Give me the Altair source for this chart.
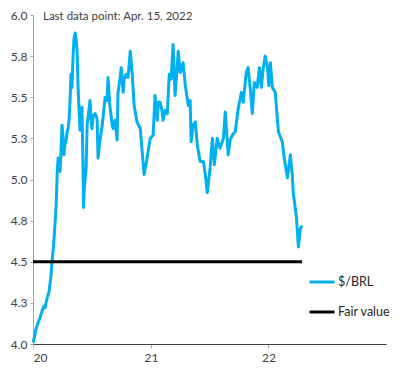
import altair as alt
import pandas as pd

# ---- data ----
brl_dates = [
    "2020-01-02", "2020-01-10", "2020-01-17", "2020-01-23", "2020-01-29", "2020-02-04",
    "2020-02-07", "2020-02-14", "2020-02-20", "2020-02-23", "2020-02-26", "2020-02-29",
    "2020-03-03", "2020-03-06", "2020-03-09", "2020-03-13", "2020-03-16", "2020-03-19",
    "2020-03-22", "2020-03-25", "2020-03-28", "2020-03-31", "2020-04-03", "2020-04-06",
    "2020-04-09", "2020-04-13", "2020-04-16", "2020-04-19", "2020-04-22", "2020-04-25",
    "2020-04-28", "2020-05-01", "2020-05-04", "2020-05-07", "2020-05-11", "2020-05-14",
    "2020-05-17", "2020-05-20", "2020-05-23", "2020-05-26", "2020-05-29", "2020-06-01",
    "2020-06-04", "2020-06-06", "2020-06-08", "2020-06-14", "2020-06-17", "2020-06-20",
    "2020-06-26", "2020-06-29", "2020-07-02", "2020-07-06", "2020-07-12", "2020-07-18",
    "2020-07-21", "2020-07-27", "2020-08-03", "2020-08-12", "2020-08-18", "2020-08-21",
    "2020-08-27", "2020-09-03", "2020-09-06", "2020-09-12", "2020-09-18", "2020-09-21",
    "2020-09-27", "2020-10-01", "2020-10-07", "2020-10-10", "2020-10-16", "2020-10-22",
    "2020-10-29", "2020-11-04", "2020-11-10", "2020-11-19", "2020-11-29", "2020-12-05",
    "2020-12-11", "2020-12-17", "2020-12-20", "2020-12-30",
    "2021-01-08", "2021-01-14", "2021-01-21", "2021-01-24", "2021-01-30", "2021-02-05",
    "2021-02-08", "2021-02-14", "2021-02-21", "2021-02-27", "2021-03-05", "2021-03-11",
    "2021-03-17", "2021-03-21", "2021-03-27", "2021-04-02", "2021-04-11", "2021-04-18",
    "2021-04-27", "2021-05-03", "2021-05-06", "2021-05-12", "2021-05-19", "2021-05-25",
    "2021-06-03", "2021-06-13", "2021-06-19", "2021-06-25", "2021-07-04", "2021-07-11",
    "2021-07-17", "2021-07-26", "2021-08-04", "2021-08-14", "2021-08-20", "2021-08-29",
    "2021-09-04", "2021-09-11", "2021-09-20", "2021-09-29", "2021-10-09", "2021-10-15",
    "2021-10-24", "2021-10-30", "2021-11-06", "2021-11-12", "2021-11-18", "2021-11-27",
    "2021-12-04", "2021-12-10", "2021-12-16", "2021-12-22", "2021-12-29",
    "2022-01-02", "2022-01-07", "2022-01-13", "2022-01-22", "2022-02-01", "2022-02-07",
    "2022-02-13", "2022-02-19", "2022-03-01", "2022-03-10", "2022-03-16", "2022-03-19",
    "2022-03-29", "2022-04-04", "2022-04-10", "2022-04-15",
]
brl_values = [
    4.01, 4.09, 4.13, 4.16, 4.20, 4.23,
    4.22, 4.28, 4.32, 4.37, 4.42, 4.50,
    4.56, 4.63, 4.72, 4.85, 5.03, 5.13,
    5.09, 5.05, 5.18, 5.33, 5.27, 5.15,
    5.21, 5.24, 5.29, 5.31, 5.36, 5.48,
    5.64, 5.56, 5.73, 5.85, 5.89, 5.85,
    5.78, 5.56, 5.42, 5.30, 5.37, 5.44,
    5.12, 4.83, 4.94, 5.07, 5.33, 5.38,
    5.48, 5.37, 5.31, 5.39, 5.40, 5.37,
    5.13, 5.24, 5.33, 5.50, 5.48, 5.62,
    5.44, 5.33, 5.31, 5.36, 5.24, 5.53,
    5.61, 5.68, 5.53, 5.61, 5.64, 5.62,
    5.78, 5.64, 5.45, 5.35, 5.31, 5.17,
    5.03, 5.09, 5.13, 5.25,
    5.27, 5.51, 5.36, 5.47, 5.47, 5.41,
    5.36, 5.42, 5.40, 5.64, 5.61, 5.82,
    5.51, 5.61, 5.78, 5.65, 5.71, 5.57,
    5.45, 5.48, 5.23, 5.33, 5.35, 5.21,
    5.11, 5.11, 5.03, 4.92, 5.07, 5.25,
    5.09, 5.25, 5.19, 5.25, 5.41, 5.15,
    5.24, 5.27, 5.29, 5.43, 5.53, 5.47,
    5.65, 5.68, 5.54, 5.40, 5.59, 5.56,
    5.68, 5.56, 5.68, 5.75, 5.68,
    5.57, 5.71, 5.56, 5.53, 5.29, 5.26,
    5.23, 5.13, 5.01, 5.15, 5.03, 4.92,
    4.77, 4.59, 4.70, 4.72,
]
fair_value = 4.5
fair_start = "2020-01-01"
fair_end = "2022-04-15"

series_names = ["$/BRL", "Fair value"]
series_colors = ["#00B0F0", "#000000"]
y_ticks = [4.0, 4.25, 4.5, 4.75, 5.0, 5.25, 5.5, 5.75, 6.0]
x_tick_years = [2020, 2021, 2022]
title_text = "Last data point: Apr. 15, 2022"

brl_df = pd.DataFrame({"date": brl_dates, "value": brl_values, "series": series_names[0]})
fair_df = pd.DataFrame({"start": [fair_start], "end": [fair_end],
                        "value": [fair_value], "series": [series_names[1]]})

FONT = "Lato"

color = alt.Color(
    "series:N",
    scale=alt.Scale(domain=series_names, range=series_colors),
    legend=alt.Legend(title=None),
)

x_axis = alt.Axis(
    title=None,
    values=[alt.DateTime(year=y, month=1, date=1) for y in x_tick_years],
    format="%y",
    grid=False,
    domainColor="#404040",
    tickColor="#a6a6a6",
    tickSize=4,
    labelPadding=4,
)
y_axis = alt.Axis(
    title=None,
    values=y_ticks,
    format=".1f",
    grid=False,
    domainColor="#a6a6a6",
    tickColor="#a6a6a6",
    tickSize=3,
    labelPadding=3,
)

x_scale = alt.Scale(domain=[alt.DateTime(year=2020, month=1, date=1),
                            alt.DateTime(year=2023, month=1, date=1)])
y_scale = alt.Scale(domain=[4.0, 6.0], nice=False, zero=False)

brl_line = alt.Chart(brl_df).mark_line(strokeWidth=3, strokeJoin="round").encode(
    x=alt.X("date:T", scale=x_scale, axis=x_axis),
    y=alt.Y("value:Q", scale=y_scale, axis=y_axis),
    color=color,
)

fair_rule = alt.Chart(fair_df).mark_rule(strokeWidth=3).encode(
    x="start:T",
    x2="end:T",
    y="value:Q",
    color=color,
)

chart = (
    alt.layer(brl_line, fair_rule)
    .properties(
        width=353,
        height=329,
        padding={"left": 25, "top": 7, "right": 6, "bottom": 19},
        autosize=alt.AutoSizeParams(type="none"),
        title=alt.TitleParams(
            title_text,
            anchor="start",
            frame="group",
            font=FONT,
            fontSize=11.5,
            fontWeight="normal",
            color="#404040",
            baseline="alphabetic",
            offset=0,
            dx=10,
            dy=22.5,
        ),
    )
    .configure_view(stroke=None)
    .configure_axis(labelFont=FONT, labelFontSize=12, labelColor="#404040")
    .configure_legend(
        orient="none",
        legendX=275,
        legendY=253,
        symbolType="stroke",
        symbolSize=625,
        symbolStrokeWidth=3,
        labelFont=FONT,
        labelFontSize=12.5,
        labelColor="#262626",
        labelOffset=2,
        rowPadding=9,
        padding=0,
    )
)

chart.save("out.html", embed_options={"renderer": "svg", "actions": False})
